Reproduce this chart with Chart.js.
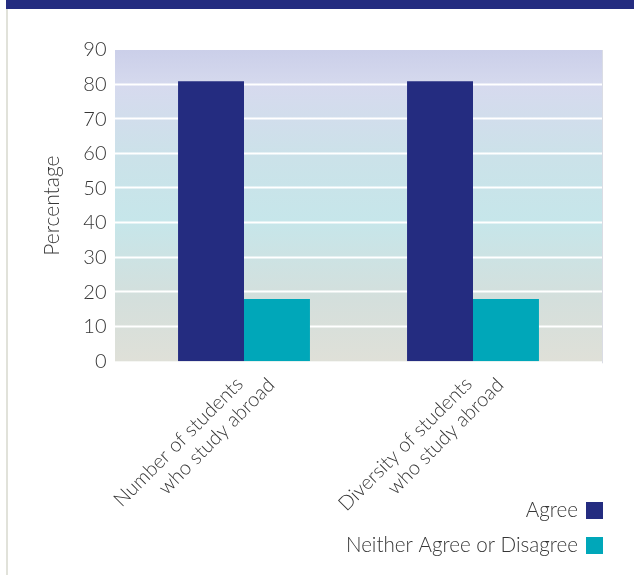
<!DOCTYPE html>
<html>
<head>
<meta charset="utf-8">
<script src="https://cdn.jsdelivr.net/npm/chart.js@4"></script>
<style>
    html, body { margin: 0; padding: 0; background: #fff; }
    #wrap { width: 634px; height: 575px; }
</style>
</head>
<body>
<div id="wrap"><canvas id="chart" width="634" height="575"></canvas></div>
<script>
// Datos del gráfico
const categories = [
    ['Number of students', 'who study abroad'],
    ['Diversity of students', 'who study abroad']
];
const seriesNames = ['Agree', 'Neither Agree or Disagree'];
const agreeValues = [81, 81];
const neitherValues = [18, 18];
const yTicks = [0, 10, 20, 30, 40, 50, 60, 70, 80, 90];

const NAVY = '#242c80';
const TEAL = '#00a7b9';
const TEXT = '#363636';
const FONT = 'Lato, "Open Sans", sans-serif';

// Fondo degradado, líneas de cuadrícula y marco de la página
const backdrop = {
    id: 'backdrop',
    beforeDraw(chart) {
        const ctx = chart.ctx;
        const y = chart.scales.y;
        const top = y.getPixelForValue(yTicks[yTicks.length - 1]);
        const bottom = y.getPixelForValue(0);
        const left = 115, right = 603;
        ctx.save();
        ctx.fillStyle = NAVY;
        ctx.fillRect(6, 0, 628, 9);
        ctx.fillStyle = '#e1e2da';
        ctx.fillRect(6, 9, 2, 566);

        const g = ctx.createLinearGradient(0, top, 0, bottom);
        g.addColorStop(0, '#cbcfe9');
        g.addColorStop(0.12, '#d6daee');
        g.addColorStop(0.35, '#cbe2e9');
        g.addColorStop(0.55, '#c6e6ea');
        g.addColorStop(0.8, '#d4dfdc');
        g.addColorStop(1, '#dfe0d8');
        ctx.fillStyle = g;
        ctx.fillRect(left, top, right - left, bottom - top);

        ctx.strokeStyle = '#ffffff';
        ctx.lineWidth = 2;
        yTicks.forEach(v => {
            if (v === 0 || v === yTicks[yTicks.length - 1]) return;
            const py = Math.round(y.getPixelForValue(v)) - 0.5;
            ctx.beginPath();
            ctx.moveTo(left, py);
            ctx.lineTo(right, py);
            ctx.stroke();
        });

        ctx.strokeStyle = '#dadce4';
        ctx.lineWidth = 1;
        ctx.beginPath();
        ctx.moveTo(right - 0.5, top);
        ctx.lineTo(right - 0.5, bottom + 2);
        ctx.stroke();
        ctx.restore();
    }
};

// Leyenda con el texto a la izquierda del cuadro, una fila por serie
const sideLegend = {
    id: 'sideLegend',
    afterDraw(chart) {
        const ctx = chart.ctx;
        const rowsY = [510.5, 545.5];
        ctx.save();
        ctx.font = '300 20.6px ' + FONT;
        ctx.textAlign = 'right';
        ctx.textBaseline = 'middle';
        chart.data.datasets.forEach((ds, i) => {
            ctx.fillStyle = TEXT;
            ctx.fillText(ds.label, 578, rowsY[i]);
            ctx.fillStyle = ds.backgroundColor;
            ctx.fillRect(586, rowsY[i] - 8.5, 17, 17);
        });
        ctx.restore();
    }
};

function initChart() {
    const ctx = document.getElementById('chart').getContext('2d');
    new Chart(ctx, {
        type: 'bar',
        data: {
            labels: categories,
            datasets: [{
                label: seriesNames[0],
                data: agreeValues,
                backgroundColor: NAVY,
                borderWidth: 0
            }, {
                label: seriesNames[1],
                data: neitherValues,
                backgroundColor: TEAL,
                borderWidth: 0
            }]
        },
        options: {
            responsive: false,
            animation: false,
            layout: {
                padding: { left: 38, right: 46.5, top: 50, bottom: 0 }
            },
            datasets: {
                bar: { categoryPercentage: 0.576, barPercentage: 1 }
            },
            scales: {
                x: {
                    grid: { display: false, drawTicks: false },
                    border: { display: false },
                    afterFit: s => { s.height = 213.7; },
                    ticks: {
                        autoSkip: false,
                        minRotation: 45,
                        maxRotation: 45,
                        padding: -4,
                        labelOffset: 11,
                        color: TEXT,
                        font: { family: FONT, size: 20, weight: 300, lineHeight: 1.15 },
                        callback: function(value) {
                            const lines = categories[value];
                            return [lines[0] + '\u00a0'.repeat(4), lines[1]];
                        }
                    }
                },
                y: {
                    min: 0,
                    max: 90,
                    grid: { display: false, drawTicks: false },
                    border: { display: false },
                    afterFit: s => { s.width = 91.5; },
                    afterBuildTicks: s => { s.ticks = yTicks.map(v => ({ value: v })); },
                    title: {
                        display: true,
                        text: 'Percentage',
                        color: TEXT,
                        padding: { top: 2, bottom: 4 },
                        font: { family: FONT, size: 21, weight: 300 }
                    },
                    ticks: {
                        padding: 23,
                        color: TEXT,
                        font: { family: FONT, size: 20, weight: 300 }
                    }
                }
            },
            plugins: {
                legend: { display: false },
                tooltip: { enabled: false }
            }
        },
        plugins: [backdrop, sideLegend]
    });
}

document.addEventListener('DOMContentLoaded', initChart);
</script>
</body>
</html>
